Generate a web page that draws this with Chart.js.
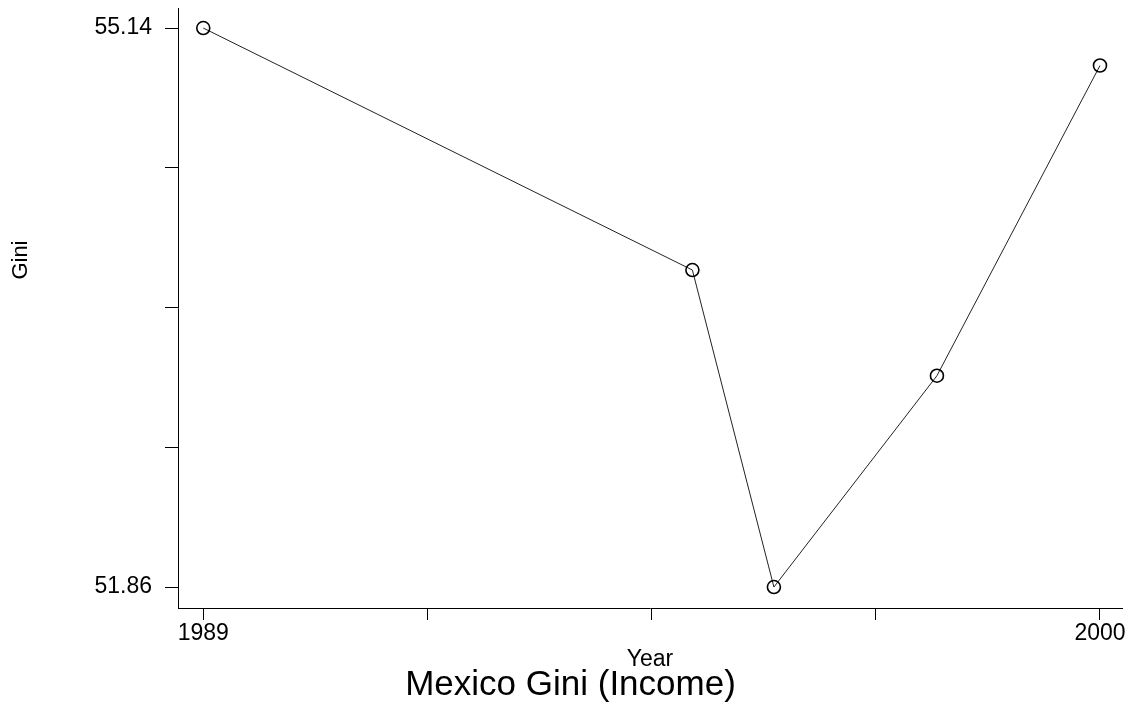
<!DOCTYPE html>
<html>
<head>
<meta charset="utf-8">
<title>Mexico Gini (Income)</title>
<script src="https://cdn.jsdelivr.net/npm/chart.js@4/dist/chart.umd.min.js"></script>
<style>
  html, body { margin: 0; padding: 0; background: #fff; }
  #giniChart { display: block; }
</style>
</head>
<body>
<canvas id="giniChart" width="1131" height="713"></canvas>
<script>
// values
const years = [1989, 1995, 1996, 1998, 2000];
const gini = [55.14, 53.72, 51.86, 53.10, 54.92];

// ticks, only the ends carry a label
const yearTicks = [1989, 1991.75, 1994.5, 1997.25, 2000];
const yearLabels = ['1989', '', '', '', '2000'];
const giniTicks = [51.86, 52.68, 53.50, 54.32, 55.14];
const giniLabels = ['51.86', '', '', '', '55.14'];

const FONT = 'Arial, "Liberation Sans", Helvetica, sans-serif';

// y axis title sits a bit above the middle of the axis, as in the original
const yTitlePlugin = {
  id: 'yTitle',
  afterLayout(chart) {
    // the original centres the bottom title slightly right of the canvas middle
    if (chart.titleBlock) chart.titleBlock.left += 19;
  },
  afterDraw(chart) {
    const { ctx, chartArea } = chart;
    ctx.save();
    ctx.font = '22px ' + FONT;
    ctx.fillStyle = '#000';
    ctx.textAlign = 'center';
    ctx.textBaseline = 'middle';
    ctx.translate(21, chartArea.top + (chartArea.bottom - chartArea.top) * 0.42);
    ctx.rotate(-Math.PI / 2);
    ctx.fillText('Gini', 0, 0);
    ctx.restore();
  },
};

new Chart(document.querySelector('#giniChart'), {
  type: 'line',
  data: {
    datasets: [{
      data: years.map((x, i) => ({ x: x, y: gini[i] })),
      borderColor: '#222',
      borderWidth: 1,
      tension: 0,
      pointStyle: 'circle',
      pointRadius: 6.5,
      pointBorderWidth: 1.6,
      pointBorderColor: '#000',
      pointBackgroundColor: 'rgba(255,255,255,0)',
      clip: false,
    }],
  },
  options: {
    responsive: false,
    animation: false,
    layout: { padding: { left: 0, top: 7, right: 9, bottom: 0 } },
    plugins: {
      legend: { display: false },
      tooltip: { enabled: false },
      title: {
        display: true,
        position: 'bottom',
        text: 'Mexico Gini (Income)',
        color: '#000',
        font: { family: FONT, size: 35, weight: 'normal', lineHeight: 1 },
        padding: { top: 0, bottom: 10 },
      },
    },
    scales: {
      x: {
        type: 'linear',
        min: 1988.69,
        max: 2000.27,
        afterBuildTicks: (scale) => { scale.ticks = yearTicks.map(v => ({ value: v })); },
        afterFit: (scale) => {
          scale.height = 60;
          scale.paddingLeft = 0;
          scale.paddingRight = 0;
        },
        ticks: {
          autoSkip: false,
          maxRotation: 0,
          padding: 0,
          color: '#000',
          font: { family: FONT, size: 23 },
          callback: (value, index) => yearLabels[index],
        },
        grid: { drawOnChartArea: false, drawTicks: true, tickLength: 12, color: '#000', lineWidth: 1 },
        border: { display: true, color: '#000', width: 1 },
        title: {
          display: true,
          text: 'Year',
          color: '#000',
          font: { family: FONT, size: 23, lineHeight: 1 },
          padding: { top: 0, bottom: -3 },
        },
      },
      y: {
        type: 'linear',
        min: 51.737,
        max: 55.257,
        afterBuildTicks: (scale) => { scale.ticks = giniTicks.map(v => ({ value: v })); },
        afterFit: (scale) => {
          scale.width = 178;
          scale.paddingTop = 0;
          scale.paddingBottom = 0;
        },
        ticks: {
          autoSkip: false,
          padding: 13,
          color: '#000',
          font: { family: FONT, size: 23 },
          callback: (value, index) => giniLabels[index],
        },
        grid: { drawOnChartArea: false, drawTicks: true, tickLength: 13, color: '#000', lineWidth: 1 },
        border: { display: true, color: '#000', width: 1 },
      },
    },
  },
  plugins: [yTitlePlugin],
});
</script>
</body>
</html>
